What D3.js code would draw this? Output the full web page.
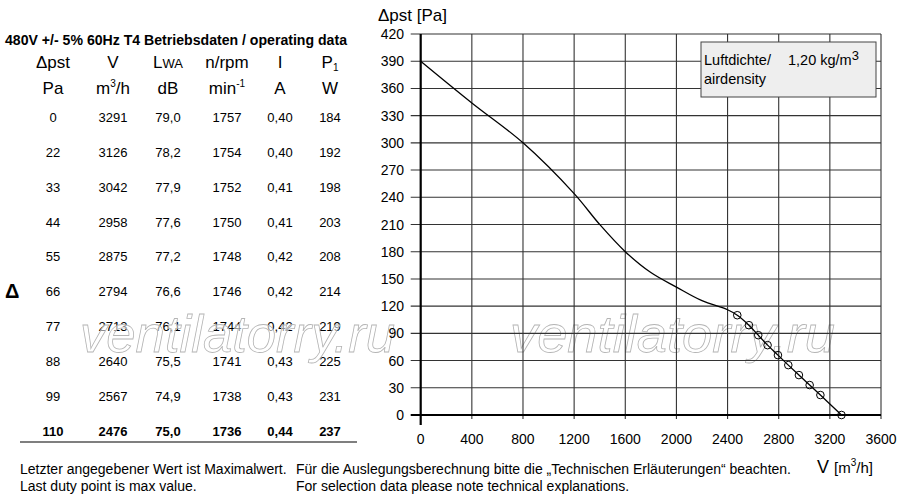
<!DOCTYPE html>
<html><head><meta charset="utf-8">
<script src="https://cdn.jsdelivr.net/npm/d3@7"></script>
<style>
body{margin:0;background:#fff;}
text{font-family:"Liberation Sans",Arial,Helvetica,sans-serif;fill:#000;}
</style></head>
<body><svg id="c" width="900" height="500"></svg>
<script>
// ---- data ----
const pstTable = [0,22,33,44,55,66,77,88,99,110];
const vTable   = [3291,3126,3042,2958,2875,2794,2713,2640,2567,2476];
const lwaTable = ["79,0","78,2","77,9","77,6","77,2","76,6","76,1","75,5","74,9","75,0"];
const rpmTable = [1757,1754,1752,1750,1748,1746,1744,1741,1738,1736];
const ampTable = ["0,40","0,40","0,41","0,41","0,42","0,42","0,42","0,43","0,43","0,44"];
const powTable = [184,192,198,203,208,214,219,225,231,237];
// curve beyond last duty point
const curveV   = [0,400,800,1200,1400,1600,1800,2000,2200,2400];
const curvePst = [390,344,300,244,210,180,157,141,126,116];
const xTicks = [0,400,800,1200,1600,2000,2400,2800,3200,3600];
const yTicks = [0,30,60,90,120,150,180,210,240,270,300,330,360,390,420];
const colX = [53,113,168,227,280,330];

const svg = d3.select("#c");
const x = d3.scaleLinear().domain([0,3600]).range([420.7,881]);
const y = d3.scaleLinear().domain([0,420]).range([415,34]);

// ---- table ----
svg.append("text").attr("x",5).attr("y",45).attr("font-size",14).attr("font-weight","bold")
  .attr("textLength",342).attr("lengthAdjust","spacingAndGlyphs")
  .text("480V +/- 5% 60Hz T4 Betriebsdaten / operating data");
const h1 = svg.append("g").attr("font-size",17).attr("text-anchor","middle");
h1.append("text").attr("x",colX[0]).attr("y",68).text("Δpst");
h1.append("text").attr("x",colX[1]).attr("y",68).text("V");
const lw = h1.append("text").attr("x",colX[2]).attr("y",68);
lw.append("tspan").text("L");
lw.append("tspan").attr("font-size",13).text("WA");
h1.append("text").attr("x",colX[3]).attr("y",68).text("n/rpm");
h1.append("text").attr("x",colX[4]).attr("y",68).text("I");
const p1 = h1.append("text").attr("x",colX[5]).attr("y",68);
p1.append("tspan").text("P");
p1.append("tspan").attr("font-size",10).attr("dy",3).text("1");
h1.append("text").attr("x",colX[0]).attr("y",94).text("Pa");
const mh = h1.append("text").attr("x",colX[1]).attr("y",94);
mh.append("tspan").text("m");
mh.append("tspan").attr("font-size",10).attr("dy",-7).text("3");
mh.append("tspan").attr("dy",7).text("/h");
h1.append("text").attr("x",colX[2]).attr("y",94).text("dB");
const mn = h1.append("text").attr("x",colX[3]).attr("y",94);
mn.append("tspan").text("min");
mn.append("tspan").attr("font-size",10).attr("dy",-7).text("-1");
h1.append("text").attr("x",colX[4]).attr("y",94).text("A");
h1.append("text").attr("x",colX[5]).attr("y",94).text("W");

const rowY = d3.scaleLinear().domain([0,9]).range([122,435.5]);
const rows = pstTable.map((p,i)=>[p,vTable[i],lwaTable[i],rpmTable[i],ampTable[i],powTable[i]]);
const tb = svg.append("g").attr("font-size",13).attr("text-anchor","middle");
rows.forEach((r,i)=>{
  r.forEach((v,j)=>{
    tb.append("text").attr("x",colX[j]).attr("y",rowY(i))
      .attr("font-weight", i===rows.length-1?"bold":"normal").text(v);
  });
});
svg.append("line").attr("x1",20).attr("x2",357).attr("y1",442).attr("y2",442)
  .attr("stroke","#000").attr("stroke-width",1.2);
svg.append("text").attr("x",5).attr("y",298).attr("font-size",20).attr("font-weight","bold").text("Δ");

// ---- watermark ----
[[80,395],[510,835]].forEach(([a,b])=>{
  svg.append("text").attr("x",a).attr("y",352).attr("font-size",52).attr("font-style","italic")
    .attr("textLength",b-a).attr("lengthAdjust","spacingAndGlyphs")
    .style("fill","#fff").style("fill-opacity",0.55).attr("stroke","#b4b4b4").attr("stroke-width",0.8)
    .text("ventilatorry.ru");
});

// ---- grid ----
const g = svg.append("g");
g.selectAll(".gx").data(xTicks.slice(1)).join("line")
  .attr("x1",d=>x(d)).attr("x2",d=>x(d)).attr("y1",y(420)).attr("y2",y(0)+4)
  .attr("stroke","#333").attr("stroke-width",1.1);
g.selectAll(".gy").data(yTicks.slice(1)).join("line")
  .attr("x1",x(0)-10).attr("x2",x(3600)).attr("y1",d=>y(d)).attr("y2",d=>y(d))
  .attr("stroke","#333").attr("stroke-width",1.1);
g.append("line").attr("x1",x(0)).attr("x2",x(0)).attr("y1",y(420)).attr("y2",y(0)+10)
  .attr("stroke","#000").attr("stroke-width",2.2);
g.append("line").attr("x1",x(0)-10).attr("x2",x(3600)).attr("y1",y(0)).attr("y2",y(0))
  .attr("stroke","#000").attr("stroke-width",2.2);

// tick labels
svg.append("g").attr("font-size",14).attr("text-anchor","end").selectAll("text").data(yTicks).join("text")
  .attr("x",404).attr("y",d=>y(d)+5).text(d=>d);
svg.append("g").attr("font-size",14).attr("text-anchor","middle").selectAll("text").data(xTicks).join("text")
  .attr("x",d=>x(d)).attr("y",444).text(d=>d);

// axis titles
svg.append("text").attr("x",378).attr("y",21).attr("font-size",17).text("Δpst [Pa]");
const vl = svg.append("text").attr("x",817).attr("y",473).attr("font-size",18);
vl.append("tspan").text("V ");
vl.append("tspan").attr("font-size",15).text("[m");
vl.append("tspan").attr("font-size",10).attr("dy",-7).text("3");
vl.append("tspan").attr("font-size",15).attr("dy",7).text("/h]");

// legend box
svg.append("rect").attr("x",701).attr("y",42).attr("width",175).attr("height",55)
  .attr("fill","#eeeeee").attr("stroke","#444").attr("stroke-width",1);
const lg = svg.append("g").attr("font-size",14.5);
lg.append("text").attr("x",704).attr("y",65).text("Luftdichte/");
const kg = lg.append("text").attr("x",788).attr("y",65);
kg.append("tspan").text("1,20 kg/m");
kg.append("tspan").attr("font-size",13).attr("dy",-5).text("3");
lg.append("text").attr("x",704).attr("y",84).text("airdensity");

// ---- curve ----
const pts = curveV.map((v,i)=>[v,curvePst[i]])
  .concat(vTable.map((v,i)=>[v,pstTable[i]]).sort((a,b)=>a[0]-b[0]));
const line = d3.line().x(d=>x(d[0])).y(d=>y(d[1])).curve(d3.curveCatmullRom.alpha(0.5));
svg.append("path").datum(pts).attr("d",line).attr("fill","none").attr("stroke","#000").attr("stroke-width",1.3);
svg.selectAll(".pt").data(vTable.map((v,i)=>[v,pstTable[i]])).join("circle")
  .attr("cx",d=>x(d[0])).attr("cy",d=>y(d[1])).attr("r",3.8)
  .attr("fill","none").attr("stroke","#000").attr("stroke-width",1);

// ---- footer ----
const ft = svg.append("g").attr("font-size",14);
ft.append("text").attr("x",20).attr("y",474).text("Letzter angegebener Wert ist Maximalwert.");
ft.append("text").attr("x",20).attr("y",491).text("Last duty point is max value.");
ft.append("text").attr("x",296).attr("y",474).text("Für die Auslegungsberechnung bitte die „Technischen Erläuterungen“ beachten.");
ft.append("text").attr("x",296).attr("y",491).text("For selection data please note technical explanations.");
</script></body></html>
